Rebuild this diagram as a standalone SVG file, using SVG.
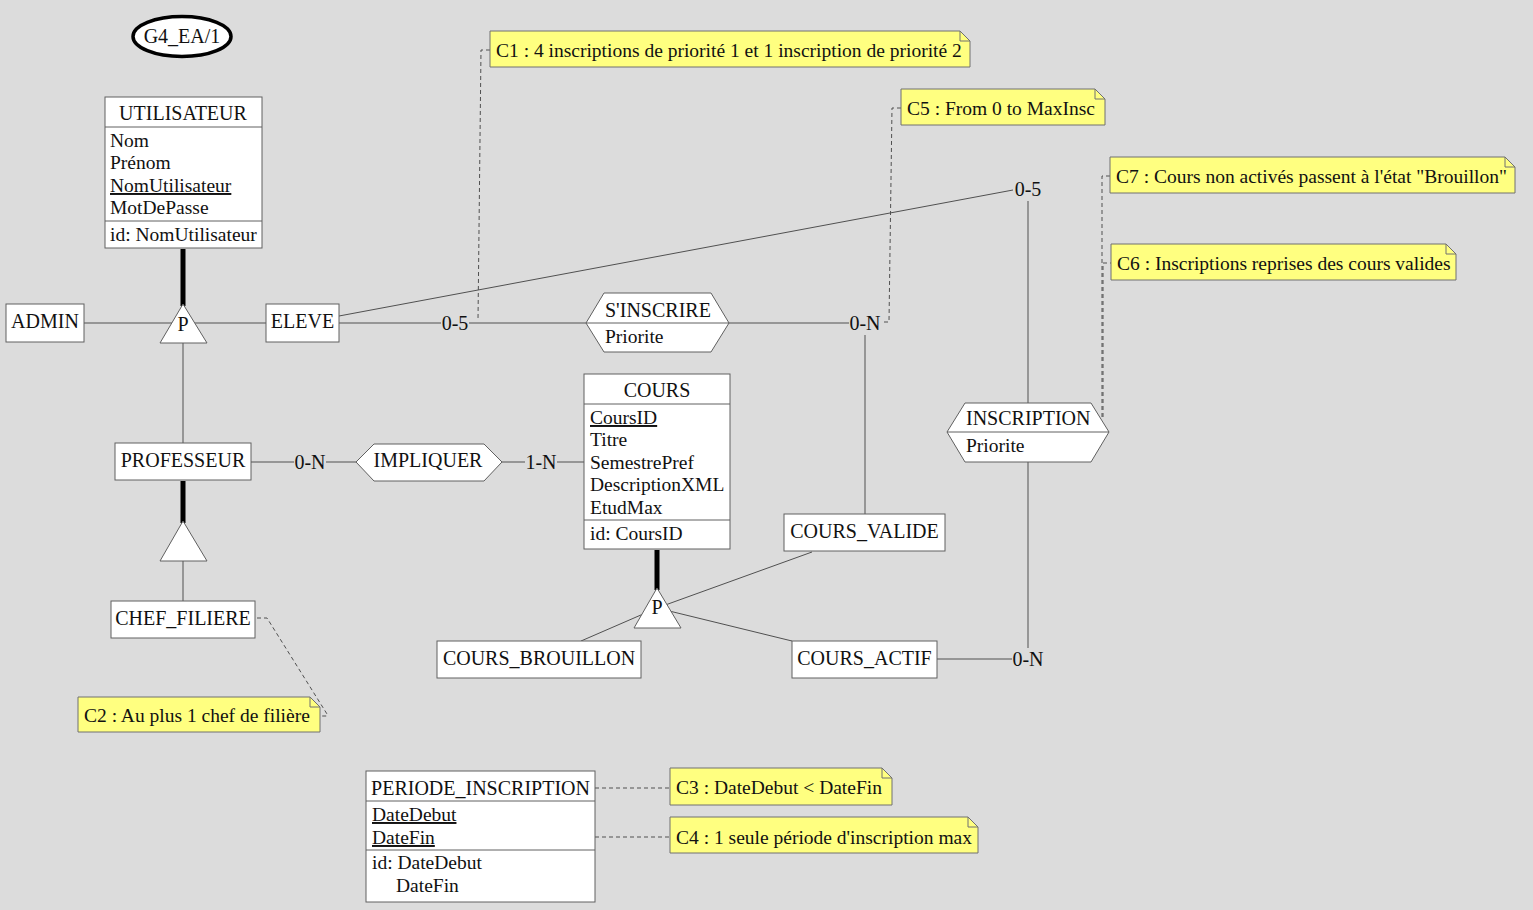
<svg xmlns="http://www.w3.org/2000/svg" width="1533" height="910" viewBox="0 0 1533 910">
  <style>
    text { font-family: "Liberation Serif", "DejaVu Serif", serif; font-size: 20px; fill: #111; }
    .a { font-size: 19.5px; }
    .c { text-anchor: middle; }
    .u { text-decoration: underline; }
    .box { fill: #fff; stroke: #606060; stroke-width: 1; }
    .sep { stroke: #606060; stroke-width: 1; }
    .link { fill: none; stroke: #505050; stroke-width: 1; }
    .heavy { fill: none; stroke: #000; stroke-width: 5; }
    .dash { fill: none; stroke: #505050; stroke-width: 1; stroke-dasharray: 4 3; }
    .note { fill: #ffff80; stroke: #707070; stroke-width: 1; }
    .fold { fill: none; stroke: #707070; stroke-width: 1; }
  </style>

  <rect x="0" y="0" width="1533" height="910" fill="#dcdcdc"/>

  <!-- connectors -->
  <g id="connectors">
    <!-- is-a links -->
    <path class="heavy" d="M183,249 V306"/>
    <path class="heavy" d="M183,481 V523"/>
    <path class="heavy" d="M657,550 V590"/>
    <path class="link" d="M84,323 H183"/>
    <path class="link" d="M183,323 H266"/>
    <path class="link" d="M183,330 V443"/>
    <path class="link" d="M183,545 V601"/>
    <path class="link" d="M657,608 L581,641"/>
    <path class="link" d="M657,608 L812,552"/>
    <path class="link" d="M657,608 L792,641"/>

    <!-- S'INSCRIRE -->
    <path class="link" d="M339,323 H441"/>
    <path class="link" d="M469,323 H586"/>
    <text class="c" x="455" y="330">0-5</text>
    <path class="link" d="M729,323 H849"/>
    <text class="c" x="865" y="330">0-N</text>
    <path class="link" d="M865,335 V514"/>

    <!-- INSCRIPTION -->
    <path class="link" d="M339,316 L1013,190"/>
    <text class="c" x="1028" y="196">0-5</text>
    <path class="link" d="M1028,201 V403"/>
    <path class="link" d="M1028,462 V648"/>
    <text class="c" x="1028" y="666">0-N</text>
    <path class="link" d="M937,659 H1012"/>

    <!-- IMPLIQUER -->
    <path class="link" d="M251,462 H294"/>
    <text class="c" x="310" y="469">0-N</text>
    <path class="link" d="M326,462 H356"/>
    <path class="link" d="M502,462 H525"/>
    <text class="c" x="541" y="469">1-N</text>
    <path class="link" d="M557,462 H584"/>

    <!-- constraint attachments -->
    <path class="dash" d="M490,50 H481 L478,320"/>
    <path class="dash" d="M901,108 H892 L889,322 H882"/>
    <path class="dash" d="M1110,176 H1102 V419"/>
    <path class="dash" d="M1111,263 H1103 V419" stroke-dashoffset="3"/>
    <path class="dash" d="M257,618 H267 L327,714 V716 H320"/>
    <path class="dash" d="M595,788 H670"/>
    <path class="dash" d="M595,837 H670"/>
  </g>

  <!-- schema label -->
  <g id="schema-name">
    <ellipse cx="182" cy="36.5" rx="49" ry="20" fill="#fff" stroke="#000" stroke-width="3.5"/>
    <text class="c" x="182" y="43">G4_EA/1</text>
  </g>

  <!-- entities -->
  <g id="utilisateur">
    <rect class="box" x="105" y="97" width="157" height="151"/>
    <line class="sep" x1="105" y1="127" x2="262" y2="127"/>
    <line class="sep" x1="105" y1="221" x2="262" y2="221"/>
    <text class="c" x="183" y="120">UTILISATEUR</text>
    <text class="a" x="110" y="147">Nom</text>
    <text class="a" x="110" y="169">Prénom</text>
    <text class="a u" x="110" y="192">NomUtilisateur</text>
    <text class="a" x="110" y="214">MotDePasse</text>
    <text class="a" x="110" y="241">id: NomUtilisateur</text>
  </g>

  <g id="isa-utilisateur">
    <polygon class="box" points="183,304 160,343 207,343"/>
    <text class="c" x="183" y="331">P</text>
  </g>

  <g id="admin">
    <rect class="box" x="6" y="304" width="78" height="38"/>
    <text class="c" x="45" y="328">ADMIN</text>
  </g>

  <g id="eleve">
    <rect class="box" x="266" y="304" width="73" height="38"/>
    <text class="c" x="302.5" y="328">ELEVE</text>
  </g>

  <g id="professeur">
    <rect class="box" x="115" y="443" width="136" height="37"/>
    <text class="c" x="183" y="467">PROFESSEUR</text>
  </g>

  <g id="isa-professeur">
    <polygon class="box" points="183,521 160,561 207,561"/>
  </g>

  <g id="chef-filiere">
    <rect class="box" x="111" y="601" width="144" height="37"/>
    <text class="c" x="183" y="625">CHEF_FILIERE</text>
  </g>

  <g id="s-inscrire">
    <polygon class="box" points="586,323 604,293 711,293 729,323 711,352 604,352"/>
    <line class="sep" x1="586" y1="323" x2="729" y2="323"/>
    <text x="605" y="317">S'INSCRIRE</text>
    <text class="a" x="605" y="343">Priorite</text>
  </g>

  <g id="impliquer">
    <polygon class="box" points="356,462 374,444 484,444 502,462 484,481 374,481"/>
    <text class="c" x="428" y="467">IMPLIQUER</text>
  </g>

  <g id="cours">
    <rect class="box" x="584" y="374" width="146" height="175"/>
    <line class="sep" x1="584" y1="404" x2="730" y2="404"/>
    <line class="sep" x1="584" y1="520" x2="730" y2="520"/>
    <text class="c" x="657" y="397">COURS</text>
    <text class="a u" x="590" y="424">CoursID</text>
    <text class="a" x="590" y="446">Titre</text>
    <text class="a" x="590" y="469">SemestrePref</text>
    <text class="a" x="590" y="491">DescriptionXML</text>
    <text class="a" x="590" y="514">EtudMax</text>
    <text class="a" x="590" y="540">id: CoursID</text>
  </g>

  <g id="isa-cours">
    <polygon class="box" points="657,588 634,628 681,628"/>
    <text class="c" x="657" y="614">P</text>
  </g>

  <g id="cours-valide">
    <rect class="box" x="784" y="514" width="161" height="37"/>
    <text class="c" x="864.5" y="538">COURS_VALIDE</text>
  </g>

  <g id="cours-brouillon">
    <rect class="box" x="437" y="641" width="204" height="37"/>
    <text class="c" x="539" y="665">COURS_BROUILLON</text>
  </g>

  <g id="cours-actif">
    <rect class="box" x="792" y="641" width="145" height="37"/>
    <text class="c" x="864.5" y="665">COURS_ACTIF</text>
  </g>

  <g id="inscription">
    <polygon class="box" points="947,432 965,403 1091,403 1109,432 1091,462 965,462"/>
    <line class="sep" x1="947" y1="432" x2="1109" y2="432"/>
    <text x="966" y="425">INSCRIPTION</text>
    <text class="a" x="966" y="452">Priorite</text>
  </g>

  <g id="periode-inscription">
    <rect class="box" x="366" y="771" width="229" height="131"/>
    <line class="sep" x1="366" y1="801" x2="595" y2="801"/>
    <line class="sep" x1="366" y1="850" x2="595" y2="850"/>
    <text class="c" x="480.5" y="795">PERIODE_INSCRIPTION</text>
    <text class="a u" x="372" y="821">DateDebut</text>
    <text class="a u" x="372" y="844">DateFin</text>
    <text class="a" x="372" y="869">id: DateDebut</text>
    <text class="a" x="396" y="892">DateFin</text>
  </g>

  <!-- constraint notes -->
  <g id="note-c1">
    <path class="note" d="M490,31 H960 L970,41 V67 H490 Z"/>
    <path class="fold" d="M960,31 V41 H970"/>
    <text class="a" x="496" y="57">C1 : 4 inscriptions de priorité 1 et 1 inscription de priorité 2</text>
  </g>

  <g id="note-c5">
    <path class="note" d="M901,89 H1095 L1105,99 V125 H901 Z"/>
    <path class="fold" d="M1095,89 V99 H1105"/>
    <text class="a" x="907" y="115">C5 : From 0 to MaxInsc</text>
  </g>

  <g id="note-c7">
    <path class="note" d="M1110,157 H1505 L1515,167 V193 H1110 Z"/>
    <path class="fold" d="M1505,157 V167 H1515"/>
    <text class="a" x="1116" y="183">C7 : Cours non activés passent à l'état "Brouillon"</text>
  </g>

  <g id="note-c6">
    <path class="note" d="M1111,244 H1446 L1456,254 V280 H1111 Z"/>
    <path class="fold" d="M1446,244 V254 H1456"/>
    <text class="a" x="1117" y="270">C6 : Inscriptions reprises des cours valides</text>
  </g>

  <g id="note-c2">
    <path class="note" d="M78,697 H310 L320,707 V732 H78 Z"/>
    <path class="fold" d="M310,697 V707 H320"/>
    <text class="a" x="84" y="722">C2 : Au plus 1 chef de filière</text>
  </g>

  <g id="note-c3">
    <path class="note" d="M670,768 H882 L892,778 V805 H670 Z"/>
    <path class="fold" d="M882,768 V778 H892"/>
    <text class="a" x="676" y="794">C3 : DateDebut &lt; DateFin</text>
  </g>

  <g id="note-c4">
    <path class="note" d="M670,817 H968 L978,827 V853 H670 Z"/>
    <path class="fold" d="M968,817 V827 H978"/>
    <text class="a" x="676" y="844">C4 : 1 seule période d'inscription max</text>
  </g>
</svg>
